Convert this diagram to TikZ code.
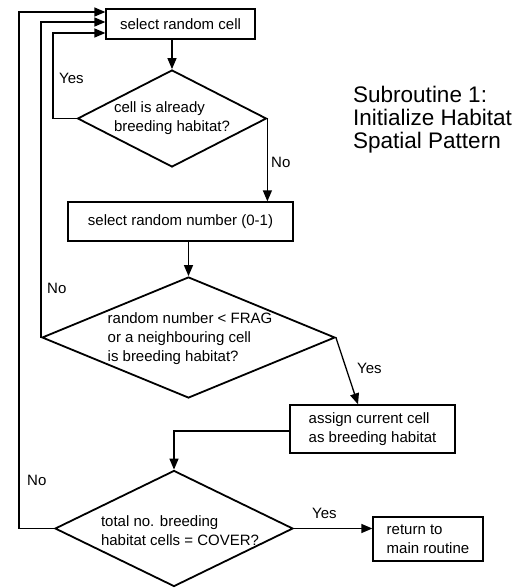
\documentclass[tikz,border=0pt]{standalone}
\usepackage{fontspec}
\setmainfont{Liberation Sans}
\usetikzlibrary{shapes.geometric,arrows.meta,calc}
\begin{document}
\begin{tikzpicture}[x=1pt,y=-1pt,
  font=\fontsize{15}{19}\selectfont,
  line/.style={line width=1.3pt},
  arr/.style={line width=1.3pt, -{Triangle[length=11pt,width=9pt]}},
  procbox/.style={draw, line width=1.3pt, inner sep=0pt, align=center},
  decision/.style={draw, diamond, line width=1.8pt, inner sep=0pt},
  dtext/.style={align=left, inner sep=0pt},
  lbl/.style={inner sep=0pt, anchor=west}]
\useasboundingbox (0,0) rectangle (527,588);

% nodes
\node[procbox, minimum width=149pt, minimum height=30pt] (b1) at (180.5,24) {select random cell};
\node[decision, minimum width=189pt, minimum height=97pt] (d1) at (172,118.5) {};
\node[dtext] (d1t) at (172,118.5) {cell is already\\breeding habitat?};
\node[procbox, minimum width=225pt, minimum height=39pt] (b2) at (180.5,221.5) {select random number (0-1)};
\node[decision, minimum width=293pt, minimum height=121pt] (d2) at (188.5,337.5) {};
\node[dtext] (d2t) at (190,339) {random number < FRAG\\or a neighbouring cell\\is breeding habitat?};
\node[procbox, align=left, minimum width=165pt, minimum height=48pt] (b3) at (372.5,429) {assign current cell\\as breeding habitat};
\node[decision, minimum width=238pt, minimum height=116pt] (d3) at (174,528.5) {};
\node[dtext] (d3t) at (180,531) {total no. breeding\\habitat cells = COVER?};
\node[procbox, align=left, minimum width=110pt, minimum height=44pt] (rb) at (428,539) {return to\\main routine};
\node[align=left, inner sep=0pt, font=\fontsize{22.5}{23}\selectfont, anchor=north west] (title) at (353,86) {Subroutine 1:\\Initialize Habitat\\Spatial Pattern};

% loop corner coordinates
\coordinate (li) at (53,33);
\coordinate (lo) at (19,12);

% connectors
\draw[arr] (d1.north |- b1.south) -- (d1.north);
\draw[arr] (d1.east) -- (d1.east |- b2.north);
\node[lbl] (no1) at (271,162) {No};
\draw[arr] (d1.west) -- (d1.west -| li) -- (li) -- ([yshift=-9pt]b1.west);
\node[lbl] (yes1) at (59,78) {Yes};
\draw[arr] (d2.north |- b2.south) -- (d2.north);
\draw[arr] (d2.west) |- ([yshift=2pt]b1.west);
\node[lbl] (no2) at (47,288) {No};
\draw[arr] (d2.east) -- ([xshift=-14.5pt]b3.north);
\node[lbl] (yes2) at (357,368) {Yes};
\draw[arr] ([yshift=-2pt]b3.west) -| (d3.north);
\draw[arr] (d3.east) -- (d3.east -| rb.west);
\node[lbl] (yes3) at (312,513) {Yes};
\draw[arr] (d3.west) -- (d3.west -| lo) -- (lo) -- ([yshift=12pt]b1.west);
\node[lbl] (no3) at (27,480) {No};
\end{tikzpicture}
\end{document}
